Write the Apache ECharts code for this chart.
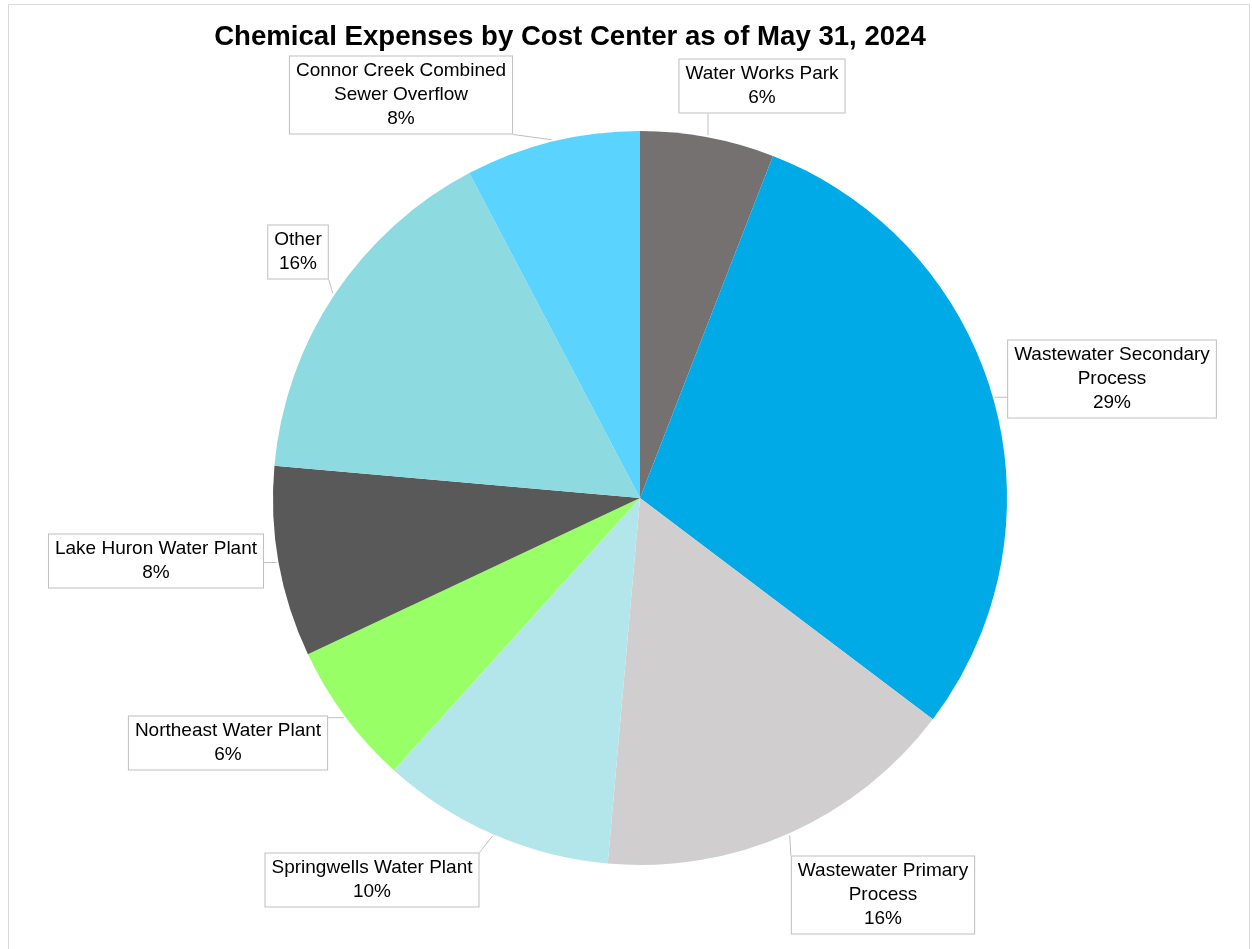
<!DOCTYPE html>
<html>
<head>
<meta charset="utf-8">
<script src="https://cdn.jsdelivr.net/npm/echarts@6/dist/echarts.min.js"></script>
<style>html,body{margin:0;padding:0;background:#fff;}#chart{width:1252px;height:949px;}</style>
</head>
<body>
<div id="chart"></div>
<script>
const title = 'Chemical Expenses by Cost Center as of May 31, 2024';
const categories = ['Water Works Park', 'Wastewater Secondary Process', 'Wastewater Primary Process', 'Springwells Water Plant', 'Northeast Water Plant', 'Lake Huron Water Plant', 'Other', 'Connor Creek Combined Sewer Overflow'];
const labelNames = ['Water Works Park', 'Wastewater Secondary\nProcess', 'Wastewater Primary\nProcess', 'Springwells Water Plant', 'Northeast Water Plant', 'Lake Huron Water Plant', 'Other', 'Connor Creek Combined\nSewer Overflow'];
const values = [5.9, 29.4, 16.1, 10.3, 6.3, 8.4, 15.9, 7.7];
const colors = ['#767171', '#00AAE6', '#D0CECE', '#B3E6EB', '#99FF66', '#595959', '#8DDAE1', '#5AD3FE'];

const CX = 640, CY = 498, R = 367;
const labelPos = [[762, 86], [1112, 379], [883, 895], [372, 880], [228, 743], [156, 561], [298, 252], [401, 95]];

const total = values.reduce((a, b) => a + b, 0);
const midAngles = [];
let acc = 0;
values.forEach(v => { midAngles.push((acc + v / 2) / total * 2 * Math.PI); acc += v; });

const chart = echarts.init(document.getElementById('chart'));
chart.setOption({
  animation: false,
  backgroundColor: '#fff',
  graphic: [
    { type: 'rect', shape: { x: 8.5, y: 4.5, width: 1241, height: 960 }, style: { fill: 'none', stroke: '#D9D9D9', lineWidth: 1 }, silent: true },
    { type: 'text', x: 570, y: 37, style: { text: title, font: 'bold 27.6px "Liberation Sans", Arial, sans-serif', fill: '#000', textAlign: 'center', textVerticalAlign: 'middle' } }
  ],
  series: [{
    type: 'pie',
    center: [CX, CY],
    radius: [0, R],
    startAngle: 90,
    clockwise: true,
    avoidLabelOverlap: false,
    data: categories.map((c, i) => ({ name: c, value: values[i], itemStyle: { color: colors[i] } })),
    itemStyle: { borderWidth: 0 },
    label: {
      show: true,
      position: 'outside',
      formatter: p => labelNames[p.dataIndex] + '\n' + Math.round(p.percent) + '%',
      fontFamily: '"Liberation Sans", Arial, sans-serif',
      fontSize: 19,
      lineHeight: 24,
      color: '#000',
      align: 'center',
      backgroundColor: '#fff',
      borderColor: '#BFBFBF',
      borderWidth: 1,
      padding: [3, 6, 2, 6]
    },
    labelLine: { show: true, lineStyle: { color: '#BFBFBF', width: 1 } },
    labelLayout: function (params) {
      const i = params.dataIndex;
      const [x, y] = labelPos[i];
      const w = params.labelRect.width, h = params.labelRect.height;
      const a = midAngles[i];
      const tx = CX + (R + 2) * Math.sin(a), ty = CY - (R + 2) * Math.cos(a);
      const ex = Math.min(Math.max(tx, x - w / 2), x + w / 2);
      const ey = Math.min(Math.max(ty, y - h / 2), y + h / 2);
      return { x: x, y: y, align: 'center', verticalAlign: 'middle', labelLinePoints: [[tx, ty], [(tx + ex) / 2, (ty + ey) / 2], [ex, ey]] };
    }
  }]
});
</script>
</body>
</html>
